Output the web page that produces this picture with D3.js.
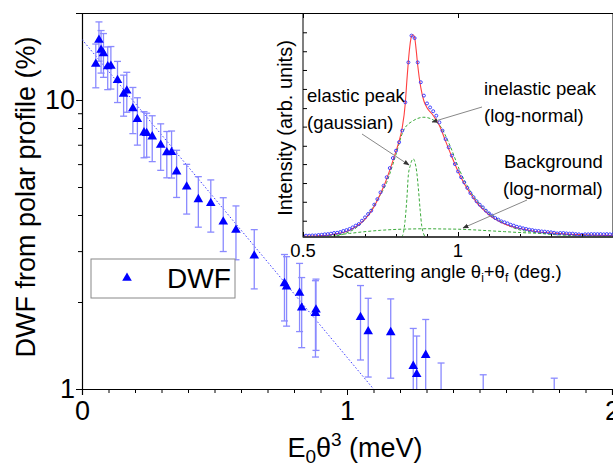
<!DOCTYPE html>
<html><head><meta charset="utf-8">
<script src="https://cdn.jsdelivr.net/npm/d3@7"></script>
<style>html,body{margin:0;padding:0;background:#fff;overflow:hidden}</style>
</head><body>
<script>
// ---------- main plot data ----------
const dwfX = [0.064,0.052,0.072,0.081,0.097,0.109,0.134,0.157,0.169,0.192,0.209,0.234,0.244,0.265,0.297,0.320,0.338,0.357,0.395,0.439,0.486,0.533,0.581,0.650,0.764,0.772,0.821,0.829,0.883,0.881,1.051,1.080,1.165,1.250,1.263,1.297,1.355,1.514,1.782];
const dwfY = [16.13,13.32,14.89,14.48,13.06,13.11,11.70,10.49,10.77,9.35,8.58,7.71,7.67,7.47,6.99,6.58,6.59,5.65,5.01,4.53,4.39,3.79,3.55,2.89,2.32,2.26,2.15,1.91,1.88,1.83,1.77,1.58,1.57,1.20,1.125,1.31,0.83,0.72,0.70];
const dwfErr = [2.5,2.3,2.5,2.5,2.2,2.2,1.9,1.7,1.7,1.7,1.6,1.4,1.33,1.35,1.28,1.2,1.22,1.05,0.98,0.9,0.9,0.8,0.75,0.67,0.6,0.61,0.57,0.52,0.52,0.54,0.51,0.48,0.48,0.42,0.40,0.43,0.40,0.40,0.39];
const fitX = [0, 1.1];
const fitY = [16.2, 1.0];
const xMajor = [0, 1, 2];
const xMinor = [0.1,0.2,0.3,0.4,0.5,0.6,0.7,0.8,0.9,1.1,1.2,1.3,1.4,1.5,1.6,1.7,1.8,1.9];
const yMajor = [1, 10];
const yMinor = [2,3,4,5,6,7,8,9,20];

// ---------- inset data ----------
const insAngle = [0.50,0.51,0.52,0.53,0.54,0.55,0.56,0.57,0.58,0.59,0.60,0.61,0.62,0.63,0.64,0.65,0.66,0.67,0.68,0.69,0.70,0.71,0.72,0.73,0.74,0.75,0.76,0.77,0.78,0.79,0.80,0.81,0.82,0.83,0.84,0.85,0.86,0.87,0.88,0.89,0.90,0.91,0.92,0.93,0.94,0.95,0.96,0.97,0.98,0.99,1.00,1.01,1.02,1.03,1.04,1.05,1.06,1.07,1.08,1.09,1.10,1.11,1.12,1.13,1.14,1.15,1.16,1.17,1.18,1.19,1.20,1.21,1.22,1.23,1.24,1.25,1.26,1.27,1.28,1.29,1.30,1.31,1.32,1.33,1.34,1.35,1.36,1.37,1.38,1.39,1.40,1.41,1.42,1.43,1.44,1.45,1.46,1.47,1.48,1.49,1.50];
const insMeas = [0.6,0.6,0.6,0.7,0.7,0.9,1.0,1.2,1.3,1.5,1.8,1.9,2.2,2.7,3.1,3.6,4.3,5.1,5.8,7.3,8.8,10.3,11.8,14.5,17.0,20.0,23.0,26.8,30.9,35.4,38.7,42.5,47.7,60.4,78.3,90.3,89.2,78.3,69.4,63.4,59.9,58.1,56.4,54.4,51.4,47.7,43.9,40.2,36.5,32.7,29.4,26.8,24.5,22.0,19.7,17.8,16.0,14.5,13.3,11.8,10.6,9.6,8.5,7.8,7.0,6.6,6.1,5.5,5.1,4.6,4.3,3.9,3.6,3.3,3.1,2.8,2.7,2.5,2.4,2.2,2.1,1.9,1.6,1.8,1.8,1.6,1.5,1.5,1.3,1.2,1.0,1.2,1.2,1.3,1.3,1.3,1.3,1.2,1.3,1.2,1.2];
const fitAngle = [0.50,0.55,0.60,0.65,0.70,0.72,0.74,0.76,0.78,0.80,0.81,0.82,0.83,0.835,0.84,0.845,0.85,0.855,0.86,0.865,0.87,0.88,0.89,0.90,0.92,0.94,0.96,0.98,1.00,1.02,1.04,1.06,1.08,1.10,1.12,1.15,1.20,1.25,1.30,1.35,1.40,1.45,1.50];
const fitTotal = [0.3,0.5,1.2,3.0,8.0,11.5,16.5,22.5,30,38.5,43,49,60,70,79,86,90,90.7,89.5,84,77,67,61,58,54.5,50,43,36,29.5,24,19.5,15.5,12.5,10,8,5.8,3.8,2.5,1.8,1.3,1.0,0.8,0.7];
const inelAngle = [0.56,0.598,0.630,0.673,0.705,0.738,0.770,0.797,0.824,0.856,0.890,0.920,0.942,0.974,1.006,1.049,1.092,1.135,1.189,1.243,1.329,1.458,1.50];
const inelVal = [0.0,0.3,1.3,4.3,8.8,16.3,24.5,35.7,47.7,52.2,53.7,52.5,49.9,41,29.7,18.5,11.8,7.3,3.6,2.1,0.9,0.3,0.2];
const elasAngle = [0.818,0.824,0.829,0.835,0.840,0.846,0.850,0.856,0.862,0.867,0.872,0.878,0.883,0.889,0.894];
const elasVal = [0,2,7,17,28,32,34,35,33,29,22,12,5,1.5,0];
const bgAngle = [0.55,0.60,0.65,0.70,0.75,0.80,0.85,0.90,0.95,1.00,1.05,1.10,1.15,1.20,1.25,1.30,1.35,1.40,1.45,1.50];
const bgVal = [0.3,0.8,1.6,2.4,3.0,3.4,3.6,3.7,3.6,3.5,3.2,2.8,2.4,2.0,1.7,1.4,1.1,0.9,0.7,0.6];
const insXMajor = [0.5, 1.0, 1.5];
const insXMinor = [0.6,0.7,0.8,0.9,1.1,1.2,1.3,1.4];
const insYTicks = [7.3,15.8,24.2,32.7,40.9,49.5,57.8,66.4,74.9,83.3,91.8];

// ---------- drawing ----------
const W = 613, H = 468;
const FONT = "'Liberation Sans', Arial, sans-serif";
const svg = d3.select("body").append("svg").attr("width", W).attr("height", H)
  .style("font-family", FONT);

const x = d3.scaleLinear().domain([0, 2]).range([82, 612]);
const y = d3.scaleLog().domain([1, 20]).range([389, 13]);

const defs = svg.append("defs");
defs.append("clipPath").attr("id", "mainClip").append("rect")
  .attr("x", 82).attr("y", 13).attr("width", 530).attr("height", 376);
defs.append("clipPath").attr("id", "insClip").append("rect")
  .attr("x", 303).attr("y", 13).attr("width", 310).attr("height", 224);
defs.append("marker").attr("id", "arr").attr("viewBox", "0 0 10 10")
  .attr("refX", 9).attr("refY", 5).attr("markerWidth", 6).attr("markerHeight", 6)
  .attr("orient", "auto").append("path").attr("d", "M0,1 L10,5 L0,9 Z").attr("fill", "#333");

// frame (top)
svg.append("line").attr("x1", 82).attr("x2", 613).attr("y1", 13.5).attr("y2", 13.5).attr("stroke", "#000");

// axes
svg.append("g").attr("transform", "translate(0,389)")
  .call(d3.axisBottom(x).tickValues(xMajor).tickSize(6).tickPadding(6).tickFormat(d3.format("d")));
svg.append("g").attr("transform", "translate(0,389)")
  .call(d3.axisBottom(x).tickValues(xMinor).tickSize(4).tickFormat(""))
  .select(".domain").remove();
svg.append("g").attr("transform", "translate(82,0)")
  .call(d3.axisLeft(y).tickValues(yMajor).tickSize(6).tickPadding(1).tickFormat(d3.format("d")));
svg.append("g").attr("transform", "translate(82,0)")
  .call(d3.axisLeft(y).tickValues(yMinor).tickSize(4).tickFormat(""))
  .select(".domain").remove();
svg.selectAll(".tick text").attr("font-size", 27).attr("font-family", FONT).attr("fill", "#000");
svg.selectAll(".domain").attr("stroke", "#000").attr("stroke-width", 1.2);
svg.selectAll(".tick line").attr("stroke", "#000");

// axis titles
const xt = svg.append("text").attr("x", 355).attr("y", 457).attr("text-anchor", "middle")
  .attr("font-size", 27);
xt.append("tspan").text("E");
xt.append("tspan").attr("font-size", 19).attr("dy", 6).text("0");
xt.append("tspan").attr("dy", -6).text("θ");
xt.append("tspan").attr("font-size", 19).attr("dy", -11).text("3");
xt.append("tspan").attr("dy", 11).text(" (meV)");

svg.append("text").attr("transform", "translate(35,197) rotate(-90)")
  .attr("text-anchor", "middle").attr("font-size", 27).text("DWF from polar profile (%)");

// main plot content
const gMain = svg.append("g").attr("clip-path", "url(#mainClip)");
gMain.append("path")
  .datum(fitX.map((d, i) => [d, fitY[i]]))
  .attr("d", d3.line().x(d => x(d[0])).y(d => y(d[1])))
  .attr("fill", "none").attr("stroke", "#3c3cff").attr("stroke-width", 1)
  .attr("stroke-dasharray", "1.5,2");

const pts = dwfX.map((d, i) => ({x: d, y: dwfY[i], e: dwfErr[i]}));
const eb = gMain.append("g").attr("stroke", "#8a8aff").attr("stroke-width", 1.3);
pts.forEach(p => {
  const px = x(p.x), yt = y(p.y + p.e), yb = y(Math.max(p.y - p.e, 0.3));
  eb.append("line").attr("x1", px).attr("x2", px).attr("y1", yt).attr("y2", yb);
  eb.append("line").attr("x1", px - 3.5).attr("x2", px + 3.5).attr("y1", yt).attr("y2", yt);
  eb.append("line").attr("x1", px - 3.5).attr("x2", px + 3.5).attr("y1", yb).attr("y2", yb);
});
const tri = d3.symbol().type(d3.symbolTriangle).size(40);
gMain.append("g").selectAll("path").data(pts).join("path")
  .attr("d", tri).attr("transform", d => `translate(${x(d.x)},${y(d.y)})`)
  .attr("fill", "#0000ff");

// legend
svg.append("rect").attr("x", 91).attr("y", 259).attr("width", 144).attr("height", 39)
  .attr("fill", "#fff").attr("stroke", "#888").attr("stroke-width", 1);
svg.append("path").attr("d", tri).attr("transform", "translate(127,278)").attr("fill", "#0000ff");
svg.append("text").attr("x", 167).attr("y", 288).attr("font-size", 28).text("DWF");

// ---------- inset ----------
const ix = d3.scaleLinear().domain([0.5, 1.5]).range([303, 613]);
const iy = d3.scaleLinear().domain([0, 100]).range([237, 14]);

svg.append("rect").attr("x", 303).attr("y", 13.5).attr("width", 310).attr("height", 223.5)
  .attr("fill", "#fff").attr("stroke", "#000").attr("stroke-width", 1);

const gi = svg.append("g").attr("clip-path", "url(#insClip)");
const line = d3.line().x(d => ix(d[0])).y(d => iy(d[1])).curve(d3.curveMonotoneX);
[[bgAngle, bgVal], [inelAngle, inelVal], [elasAngle, elasVal]].forEach(([a, v]) => {
  gi.append("path").datum(a.map((d, i) => [d, v[i]])).attr("d", line)
    .attr("fill", "none").attr("stroke", "#3aaa3a").attr("stroke-width", 1)
    .attr("stroke-dasharray", "3,2");
});
gi.append("path").datum(fitAngle.map((d, i) => [d, fitTotal[i]])).attr("d", line)
  .attr("fill", "none").attr("stroke", "#ff4040").attr("stroke-width", 1.1);
gi.append("g").selectAll("circle").data(insAngle.map((d, i) => [d, insMeas[i]])).join("circle")
  .attr("cx", d => ix(d[0])).attr("cy", d => iy(d[1])).attr("r", 1.5)
  .attr("fill", "none").attr("stroke", "#3030ff").attr("stroke-width", 0.9);

// inset axes
svg.append("g").attr("transform", "translate(0,237)")
  .call(d3.axisTop(ix).tickValues(insXMajor).tickSize(5).tickFormat(""))
  .call(g => g.select(".domain").remove());
svg.append("g").attr("transform", "translate(0,237)")
  .call(d3.axisTop(ix).tickValues(insXMinor).tickSize(3).tickFormat(""))
  .call(g => g.select(".domain").remove());
svg.append("g").attr("transform", "translate(0,14)")
  .call(d3.axisBottom(ix).tickValues(insXMajor).tickSize(4).tickFormat(""))
  .call(g => g.select(".domain").remove());
svg.append("g").attr("transform", "translate(303,0)")
  .call(d3.axisRight(iy).tickValues(insYTicks).tickSize(4).tickFormat(""))
  .call(g => g.select(".domain").remove());
svg.append("line").attr("x1", 303).attr("x2", 613).attr("y1", 237).attr("y2", 237).attr("stroke", "#333").attr("stroke-width", 1.3);

const insLab = [[0.5, "0.5"], [1.0, "1"]];
insLab.forEach(([v, t]) => svg.append("text").attr("x", ix(v)).attr("y", 257)
  .attr("text-anchor", "middle").attr("font-size", 18.5).text(t));

const st = svg.append("text").attr("x", 332).attr("y", 278).attr("font-size", 18.5);
st.append("tspan").text("Scattering angle θ");
st.append("tspan").attr("font-size", 12).attr("dy", 4).text("i");
st.append("tspan").attr("dy", -4).text("+θ");
st.append("tspan").attr("font-size", 12).attr("dy", 4).text("f");
st.append("tspan").attr("dy", -4).text(" (deg.)");

svg.append("text").attr("transform", "translate(292,128) rotate(-90)")
  .attr("text-anchor", "middle").attr("font-size", 20).text("Intensity (arb. units)");

// annotations
const ann = [
  [307, 102, "elastic peak"], [307, 129, "(gaussian)"],
  [484, 95, "inelastic peak"], [484, 122, "(log-normal)"],
  [504, 168, "Background"], [503, 195, "(log-normal)"]
];
ann.forEach(([ax, ay, t]) => svg.append("text").attr("x", ax).attr("y", ay)
  .attr("font-size", 18.5).text(t));
const arrows = [[362, 134, 409, 165], [482, 107, 432, 122], [527, 200, 463, 228]];
arrows.forEach(([x1, y1, x2, y2]) => svg.append("line")
  .attr("x1", x1).attr("y1", y1).attr("x2", x2).attr("y2", y2)
  .attr("stroke", "#888").attr("stroke-width", 1).attr("marker-end", "url(#arr)"));
</script>
</body></html>
